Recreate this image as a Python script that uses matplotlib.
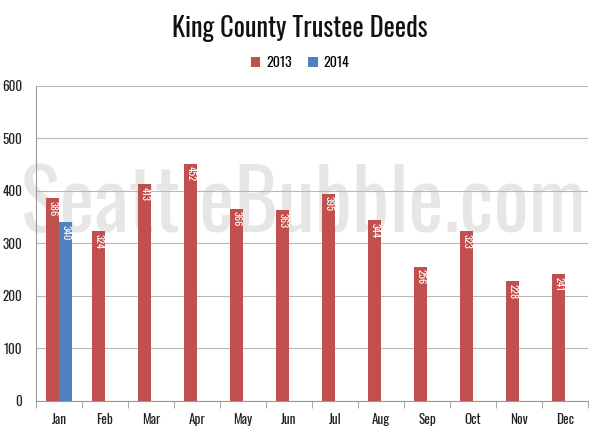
import matplotlib
matplotlib.use("Agg")
import matplotlib.pyplot as plt
import numpy as np

months = ["Jan", "Feb", "Mar", "Apr", "May", "Jun", "Jul", "Aug", "Sep", "Oct", "Nov", "Dec"]
vals_2013 = [386, 324, 413, 452, 366, 363, 395, 344, 256, 323, 228, 241]
vals_2014 = [340]
yticks = [0, 100, 200, 300, 400, 500, 600]

FONT = ["Oswald", "Fjalla One", "Archivo Narrow", "DejaVu Sans"]
RED = "#c0504d"
BLUE = "#4f81bd"

fig = plt.figure(figsize=(6, 4.36), dpi=100)
ax = fig.add_axes([0.06, 0.0803, 0.92, 0.7225])
ax.set_zorder(2)
ax.set_facecolor("none")

# watermark (background)
fig.text(0.505, 0.468, "SeattleBubble.com", fontsize=60, color="#e6e6e6",
         ha="center", va="baseline", family=FONT, fontweight="medium", zorder=0)

x = np.arange(len(months))
w = 0.28
b1 = ax.bar(x - w / 2, vals_2013, w, color=RED, label="2013", zorder=3)
x14 = x[:len(vals_2014)]
b2 = ax.bar(x14 + w / 2, vals_2014, w, color=BLUE, label="2014", zorder=3)

for bars, vals in ((b1, vals_2013), (b2, vals_2014)):
    for rect, v in zip(bars, vals):
        ax.text(rect.get_x() + rect.get_width() / 2, v - 5, str(v), rotation=270,
                ha="center", va="top", color="white", fontsize=7.5, family=FONT,
                zorder=4)

ax.set_xlim(-0.5, len(months) - 0.5)
ax.set_ylim(0, 600)
ax.set_yticks(yticks)
ax.set_yticklabels([str(t) for t in yticks], family=FONT, fontsize=9.5,
                   fontweight="bold", color="#222222")
ax.set_xticks(x)
ax.set_xticklabels(months, family=FONT, fontsize=9.5, fontweight="bold", color="#222222")
ax.set_xticks(np.arange(-0.5, len(months), 1), minor=True)
ax.tick_params(axis="x", which="major", length=0, pad=9)
ax.tick_params(axis="x", which="minor", length=5, color="#999999")
ax.tick_params(axis="y", length=0, pad=10)
ax.yaxis.grid(True, color="#b8b8b8", linewidth=0.8, zorder=1)
ax.set_axisbelow(True)
for s in ("top", "right"):
    ax.spines[s].set_visible(False)
ax.spines["left"].set_color("#999999")
ax.spines["bottom"].set_color("#999999")

fig.text(0.5, 0.935, "King County Trustee Deeds", ha="center", va="center",
         fontsize=19, family=FONT, color="#111111")
leg = fig.legend(handles=[b1, b2], labels=["2013", "2014"], loc="center",
                 bbox_to_anchor=(0.5, 0.857), ncol=2, frameon=False,
                 prop={"family": FONT, "size": 10}, handlelength=0.7,
                 handleheight=0.7, columnspacing=1.2, handletextpad=0.4)

fig.savefig("out.png", dpi=100)
